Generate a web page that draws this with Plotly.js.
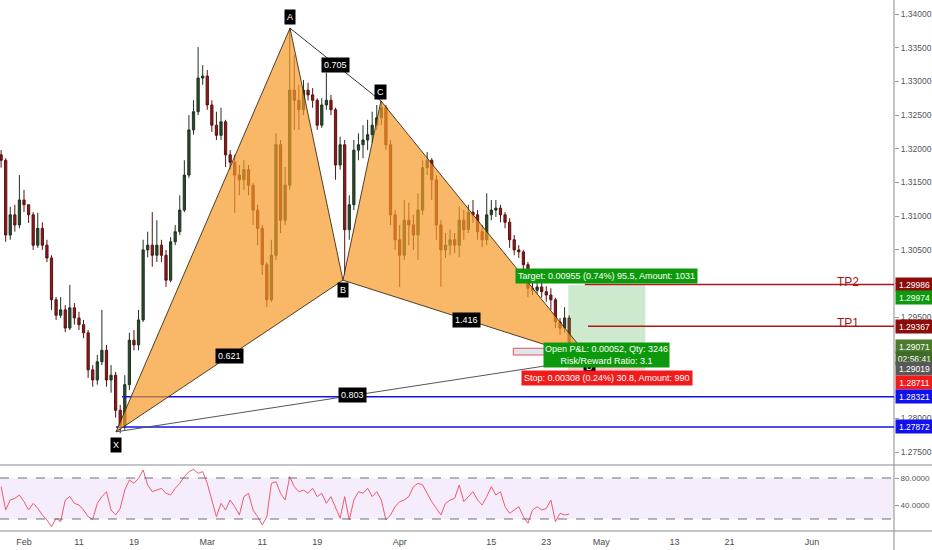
<!DOCTYPE html>
<html><head><meta charset="utf-8">
<script src="https://cdn.plot.ly/plotly-3.0.1.min.js"></script>
<style>html,body{margin:0;padding:0;background:#fff}#chart{width:932px;height:550px}</style>
</head><body><div id="chart"></div>
<script>
// ---- data (12h bars, x = trading-day index from Feb 1) ----
const firstBarDay = -2.5;
const barStepDays = 0.5;
const opens = [1.3191,1.3183,1.3072,1.3102,1.3087,1.3124,1.3117,1.3102,1.3057,1.3082,
1.3057,1.3038,1.2976,1.2953,1.2961,1.2934,1.2964,1.2949,1.2939,1.2927,
1.2872,1.2857,1.2884,1.2901,1.2857,1.2864,1.2812,1.2790,1.2850,1.2916,
1.2909,1.2946,1.3050,1.3057,1.3042,1.3057,1.3042,1.3005,1.3062,1.3077,
1.3109,1.3161,1.3228,1.3255,1.3305,1.3308,1.3265,1.3235,1.3220,1.3240,
1.3191,1.3180,1.3161,1.3154,1.3169,1.3146,1.3109,1.3082,1.3028,1.2976,
1.3042,1.3206,1.3094,1.3146,1.3287,1.3272,1.3258,1.3287,1.3280,1.3272,
1.3235,1.3265,1.3272,1.3258,1.3176,1.3206,1.3080,1.3117,1.3198,1.3206,
1.3213,1.3221,1.3235,1.3246,1.3261,1.3206,1.3102,1.3065,1.3042,1.3094,
1.3087,1.3072,1.3109,1.3172,1.3183,1.3154,1.3087,1.3050,1.3057,1.3065,
1.3057,1.3094,1.3080,1.3106,1.3102,1.3077,1.3065,1.3102,1.3109,1.3112,
1.3102,1.3091,1.3065,1.3050,1.3047,1.3028,1.2993,1.2990,1.2995,1.2988,
1.2983,1.2976,1.2943,1.2934,1.2949];
const highs = [1.3198,1.3186,1.3114,1.3117,1.3161,1.3139,1.3117,1.3106,1.3105,1.3091,
1.3065,1.3042,1.2980,1.2980,1.2968,1.2998,1.2971,1.2958,1.2946,1.2931,
1.2879,1.2894,1.2961,1.2909,1.2879,1.2869,1.2820,1.2864,1.2927,1.2931,
1.2961,1.3065,1.3077,1.3106,1.3094,1.3065,1.3050,1.3069,1.3087,1.3131,
1.3183,1.3250,1.3272,1.3351,1.3324,1.3317,1.3272,1.3255,1.3261,1.3243,
1.3198,1.3191,1.3176,1.3183,1.3176,1.3149,1.3117,1.3087,1.3032,1.3065,
1.3223,1.3213,1.3173,1.3379,1.3339,1.3295,1.3302,1.3298,1.3290,1.3275,
1.3275,1.3313,1.3280,1.3261,1.3218,1.3213,1.3131,1.3213,1.3223,1.3235,
1.3243,1.3255,1.3265,1.3271,1.3265,1.3213,1.3109,1.3087,1.3124,1.3120,
1.3102,1.3134,1.3183,1.3195,1.3186,1.3161,1.3094,1.3075,1.3080,1.3075,
1.3114,1.3109,1.3117,1.3124,1.3109,1.3087,1.3134,1.3124,1.3124,1.3117,
1.3106,1.3097,1.3072,1.3057,1.3050,1.3032,1.3002,1.3005,1.3001,1.2996,
1.2993,1.2979,1.2949,1.2965,1.2953];
const lows = [1.3172,1.3062,1.3065,1.3077,1.3082,1.3106,1.3090,1.3050,1.3053,1.3050,
1.3032,1.2961,1.2946,1.2949,1.2928,1.2931,1.2939,1.2931,1.2919,1.2860,
1.2847,1.2850,1.2879,1.2847,1.2838,1.2801,1.2778,1.2783,1.2842,1.2901,
1.2901,1.2943,1.3039,1.3025,1.3032,1.3032,1.2995,1.3002,1.3057,1.3072,
1.3106,1.3157,1.3221,1.3250,1.3295,1.3258,1.3225,1.3213,1.3213,1.3173,
1.3169,1.3105,1.3131,1.3139,1.3131,1.3087,1.3057,1.3013,1.2965,1.2973,
1.3035,1.3075,1.3087,1.3139,1.3228,1.3228,1.3250,1.3272,1.3261,1.3228,
1.3231,1.3258,1.3250,1.3154,1.3169,1.3013,1.3065,1.3109,1.3183,1.3186,
1.3198,1.3209,1.3228,1.3235,1.3198,1.3087,1.3050,1.2995,1.3035,1.3057,
1.3050,1.3035,1.3102,1.3161,1.3124,1.3065,1.2995,1.3038,1.3042,1.3045,
1.3039,1.3065,1.3075,1.3090,1.3065,1.3054,1.3057,1.3094,1.3099,1.3091,
1.3082,1.3053,1.3042,1.3038,1.3017,1.2980,1.2983,1.2985,1.2979,1.2973,
1.2961,1.2934,1.2924,1.2927,1.2901];
const closes = [1.3183,1.3072,1.3102,1.3087,1.3124,1.3117,1.3102,1.3057,1.3082,1.3057,
1.3038,1.2976,1.2953,1.2961,1.2934,1.2964,1.2949,1.2939,1.2927,1.2872,
1.2857,1.2884,1.2901,1.2857,1.2864,1.2812,1.2790,1.2850,1.2916,1.2909,
1.2946,1.3050,1.3057,1.3042,1.3057,1.3042,1.3005,1.3062,1.3077,1.3109,
1.3161,1.3228,1.3255,1.3305,1.3308,1.3265,1.3235,1.3220,1.3240,1.3191,
1.3180,1.3161,1.3154,1.3169,1.3146,1.3109,1.3082,1.3028,1.2976,1.3042,
1.3206,1.3094,1.3146,1.3287,1.3272,1.3258,1.3287,1.3280,1.3272,1.3235,
1.3265,1.3272,1.3258,1.3176,1.3206,1.3080,1.3117,1.3198,1.3206,1.3213,
1.3221,1.3235,1.3246,1.3261,1.3206,1.3102,1.3065,1.3042,1.3094,1.3087,
1.3072,1.3109,1.3172,1.3183,1.3154,1.3087,1.3050,1.3057,1.3065,1.3057,
1.3094,1.3080,1.3106,1.3102,1.3077,1.3065,1.3102,1.3109,1.3112,1.3102,
1.3091,1.3065,1.3050,1.3047,1.3028,1.2993,1.2990,1.2995,1.2988,1.2983,
1.2976,1.2943,1.2934,1.2949,1.29071];
const rsi = [67.3,33.2,47.8,50.2,55.1,45.4,33.2,42.9,35.6,25.9,
18.5,8.8,21.0,16.1,47.8,52.7,42.9,40.5,33.2,23.4,
19.5,42.9,52.7,60.0,33.2,25.9,35.6,62.4,77.1,72.2,
79.5,91.7,69.8,60.0,62.4,64.9,57.6,55.1,64.9,72.2,
82.0,89.3,92.7,86.8,89.3,72.2,47.8,23.4,42.9,33.2,
47.8,38.0,25.9,52.7,57.6,33.2,23.4,11.2,23.4,72.2,
74.6,57.6,47.8,82.0,67.3,60.0,62.4,57.6,64.9,52.7,
57.6,42.9,52.7,38.0,21.0,52.7,18.5,47.8,60.0,57.6,
64.9,52.7,60.0,47.8,18.5,25.9,38.0,45.4,47.8,52.7,
67.3,72.2,69.8,57.6,45.4,35.6,25.9,42.9,47.8,50.2,
69.8,45.4,52.7,60.0,47.8,40.5,52.7,67.3,55.1,60.0,
38.0,28.3,33.2,38.0,23.4,13.7,33.2,38.0,33.2,35.6,
47.8,16.1,28.3,25.9,27.3];
const rsiBands = [80, 20];
const rsiTicks = [40, 80];
const rsiTickLabels = ['40.0000', '80.0000'];

const dateTickDays = [0,6,12,20,26,32,41,51,57,63,71,77,86];
const dateTickLabels = ['Feb','11','19','Mar','11','19','Apr','15','23','May','13','21','Jun'];
const priceTicks = [1.275,1.280,1.295,1.300,1.305,1.310,1.315,1.320,1.325,1.330,1.335,1.340];

// harmonic pattern points
const patternNames = ['X','A','B','C','D'];
const patternDays = [10.04, 29.03, 34.81, 38.96, 61.77];
const patternPrices = [1.2780, 1.3379, 1.3005, 1.3271, 1.2888];
const ratioPairs = [['X','B'],['A','C'],['B','D'],['X','D']];
const ratioValues = ['0.621','0.705','1.416','0.803'];

// horizontal levels
const blueLevels = [1.28321, 1.27872];
const blueStartDays = [10.7, 10.04];
const tpNames = ['TP2','TP1'];
const tpPrices = [1.29986, 1.29367];
const tpStartDays = [61.2, 61.55];

// long position tool
const entryPrice = 1.29019, targetPrice = 1.29974, stopPrice = 1.28711, lastPrice = 1.29071;
const positionDays = [59.4, 67.8];
const noteBoxDays = [53.4, 57.1];
const noteBoxPrices = [1.2894, 1.2904];

// ---- build ----
const xs = closes.map((_, i) => firstBarDay + i * barStepDays);
const XR = [-2.62, 94.95];
const P = {}; patternNames.forEach((n, i) => P[n] = [patternDays[i], patternPrices[i]]);
const FF = 'Liberation Sans, Arial, sans-serif';

const traces = [
  {type:'candlestick', x:xs, open:opens, high:highs, low:lows, close:closes, xaxis:'x', yaxis:'y',
   increasing:{line:{color:'#1e3320', width:1}, fillcolor:'#2b4a2c'},
   decreasing:{line:{color:'#5c1111', width:1}, fillcolor:'#8a1c1c'},
   whiskerwidth:0, hoverinfo:'skip', showlegend:false},
  {type:'scatter', mode:'lines', x:xs, y:rsi, xaxis:'x', yaxis:'y2',
   line:{color:'#ec5b6e', width:1}, hoverinfo:'skip', showlegend:false}
];

const shapes = [];
shapes.push({type:'rect', xref:'paper', x0:0, x1:1, yref:'y2', y0:rsiBands[1], y1:rsiBands[0],
  fillcolor:'rgba(160,60,220,0.09)', line:{width:0}, layer:'below'});
rsiBands.forEach(b => shapes.push({type:'line', xref:'paper', x0:0, x1:1, yref:'y2', y0:b, y1:b,
  line:{color:'#6f6a86', width:1, dash:'dash'}}));
// pane frame lines
shapes.push({type:'line', xref:'paper', x0:0, x1:1.05, yref:'paper', y0:0.1243, y1:0.1243, line:{color:'#8c8c8c', width:1}});
shapes.push({type:'line', xref:'paper', x0:0, x1:1.05, yref:'paper', y0:0, y1:0, line:{color:'#8c8c8c', width:1}});
shapes.push({type:'line', xref:'paper', x0:1, x1:1, yref:'paper', y0:-0.05, y1:1, line:{color:'#8c8c8c', width:1}});

// position tool zones
shapes.push({type:'rect', xref:'x', yref:'y', x0:positionDays[0], x1:positionDays[1], y0:entryPrice, y1:targetPrice,
  fillcolor:'rgba(76,175,80,0.28)', line:{width:0}});
shapes.push({type:'rect', xref:'x', yref:'y', x0:positionDays[0], x1:positionDays[1], y0:stopPrice, y1:entryPrice,
  fillcolor:'rgba(244,67,54,0.25)', line:{width:0}});
shapes.push({type:'rect', xref:'x', yref:'y', x0:noteBoxDays[0], x1:noteBoxDays[1], y0:noteBoxPrices[0], y1:noteBoxPrices[1],
  fillcolor:'#dde5f1', line:{color:'#e05555', width:1}});

// horizontal levels
blueLevels.forEach((p, i) => shapes.push({type:'line', xref:'x', yref:'y', x0:blueStartDays[i], x1:XR[1], y0:p, y1:p,
  line:{color:'#1111ee', width:1.5}}));
tpPrices.forEach((p, i) => shapes.push({type:'line', xref:'x', yref:'y', x0:tpStartDays[i], x1:XR[1], y0:p, y1:p,
  line:{color:'#b01818', width:1.5}}));

// pattern lines and triangles
const seg = (a, b, c) => ({type:'line', xref:'x', yref:'y', x0:P[a][0], y0:P[a][1], x1:P[b][0], y1:P[b][1],
  line:{color:c, width:1}});
shapes.push(seg('X','D','#555555'));
shapes.push(seg('A','C','#333333'));
const tri = (a, b, c) => ({type:'path', xref:'x', yref:'y',
  path:`M ${P[a][0]},${P[a][1]} L ${P[b][0]},${P[b][1]} L ${P[c][0]},${P[c][1]} Z`,
  fillcolor:'rgba(245,154,38,0.70)', line:{color:'rgba(50,35,15,0.85)', width:1}});
shapes.push(tri('X','A','B'));
shapes.push(tri('B','C','D'));

const ann = [];
const blackLbl = (x, y, t, ys) => ({x, y, xref:'x', yref:'y', text:t, showarrow:false, yshift:ys,
  bgcolor:'#000000', borderpad:2, font:{family:FF, size:9, color:'#ffffff'}});
ratioPairs.forEach((pr, i) => {
  const a = P[pr[0]], b = P[pr[1]];
  ann.push(blackLbl((a[0]+b[0])/2, (a[1]+b[1])/2, ratioValues[i], 0));
});
const letterShift = {X:-13, A:11, B:-10, C:9, D:-8};
patternNames.forEach(n => ann.push(blackLbl(P[n][0], P[n][1], n, letterShift[n])));

const midPos = (positionDays[0] + positionDays[1]) / 2;
const posFont = {family:FF, size:9, color:'#ffffff'};
ann.push({x:midPos, y:targetPrice, xref:'x', yref:'y', yanchor:'bottom', yshift:1, showarrow:false,
  text:'Target: 0.00955 (0.74%) 95.5, Amount: 1031', bgcolor:'#0c9a0c', borderpad:2, font:posFont});
ann.push({x:midPos, y:lastPrice, xref:'x', yref:'y', yanchor:'top', yshift:4, showarrow:false,
  text:'Open P&amp;L: 0.00052, Qty: 3246<br>Risk/Reward Ratio: 3.1', bgcolor:'#0c9a0c', borderpad:1, font:posFont});
ann.push({x:midPos, y:stopPrice, xref:'x', yref:'y', yanchor:'top', yshift:0, showarrow:false,
  text:'Stop: 0.00308 (0.24%) 30.8, Amount: 990', bgcolor:'#f01c1c', borderpad:2, font:posFont});

tpNames.forEach((n, i) => ann.push({x:89.9, y:tpPrices[i], xref:'x', yref:'y', yanchor:'bottom', yshift:-6,
  showarrow:false, text:n, font:{family:FF, size:12, color:'#a31515'}}));

// right-axis price tags
const tags = [
  ['1.29986', 1.29986, '#8c0c0c', 0],
  ['1.29974', 1.29974, '#0c9a0c', -12],
  ['1.29367', 1.29367, '#8c0c0c', 0],
  ['1.29071', lastPrice, '#4b7b2d', 0],
  ['02:56:41', lastPrice, '#3f6a27', -12],
  ['1.29019', entryPrice, '#585858', -19],
  ['1.28711', stopPrice, '#f01c1c', -12],
  ['1.28321', 1.28321, '#1111ee', 0],
  ['1.27872', 1.27872, '#1111ee', 0]
];
tags.forEach(t => ann.push({x:1, xref:'paper', y:t[1], yref:'y', xanchor:'left', yanchor:'middle', xshift:1, yshift:t[3],
  text:t[0], showarrow:false, bgcolor:t[2], borderpad:1.5, width:34, height:10, align:'center',
  font:{family:FF, size:8.5, color:'#ffffff'}}));

const layout = {
  width:932, height:550, margin:{l:0, r:38, t:0, b:19},
  paper_bgcolor:'#ffffff', plot_bgcolor:'#ffffff', showlegend:false, hovermode:false,
  font:{family:FF, color:'#555'},
  xaxis:{range:XR, anchor:'y2', tickmode:'array', tickvals:dateTickDays, ticktext:dateTickLabels,
    tickfont:{size:9, color:'#4a4a4a'}, ticklabelstandoff:4, showgrid:false, zeroline:false, showline:false, ticks:'',
    rangeslider:{visible:false}, fixedrange:true},
  yaxis:{domain:[0.128, 1], range:[1.27337, 1.34208], side:'right', anchor:'x', tickmode:'array',
    tickvals:priceTicks, ticktext:priceTicks.map(v => v.toFixed(5)), tickfont:{size:8.5, color:'#555'},
    ticks:'outside', ticklen:4, tickcolor:'#999', showgrid:false, zeroline:false, showline:false},
  yaxis2:{domain:[0, 0.1224], range:[2.44, 97.56], side:'right', anchor:'x', tickmode:'array',
    tickvals:rsiTicks, ticktext:rsiTickLabels, tickfont:{size:8, color:'#555'},
    ticks:'outside', ticklen:4, tickcolor:'#999', showgrid:false, zeroline:false, showline:false},
  shapes, annotations:ann
};
Plotly.newPlot('chart', traces, layout, {displayModeBar:false, staticPlot:true});
</script></body></html>
